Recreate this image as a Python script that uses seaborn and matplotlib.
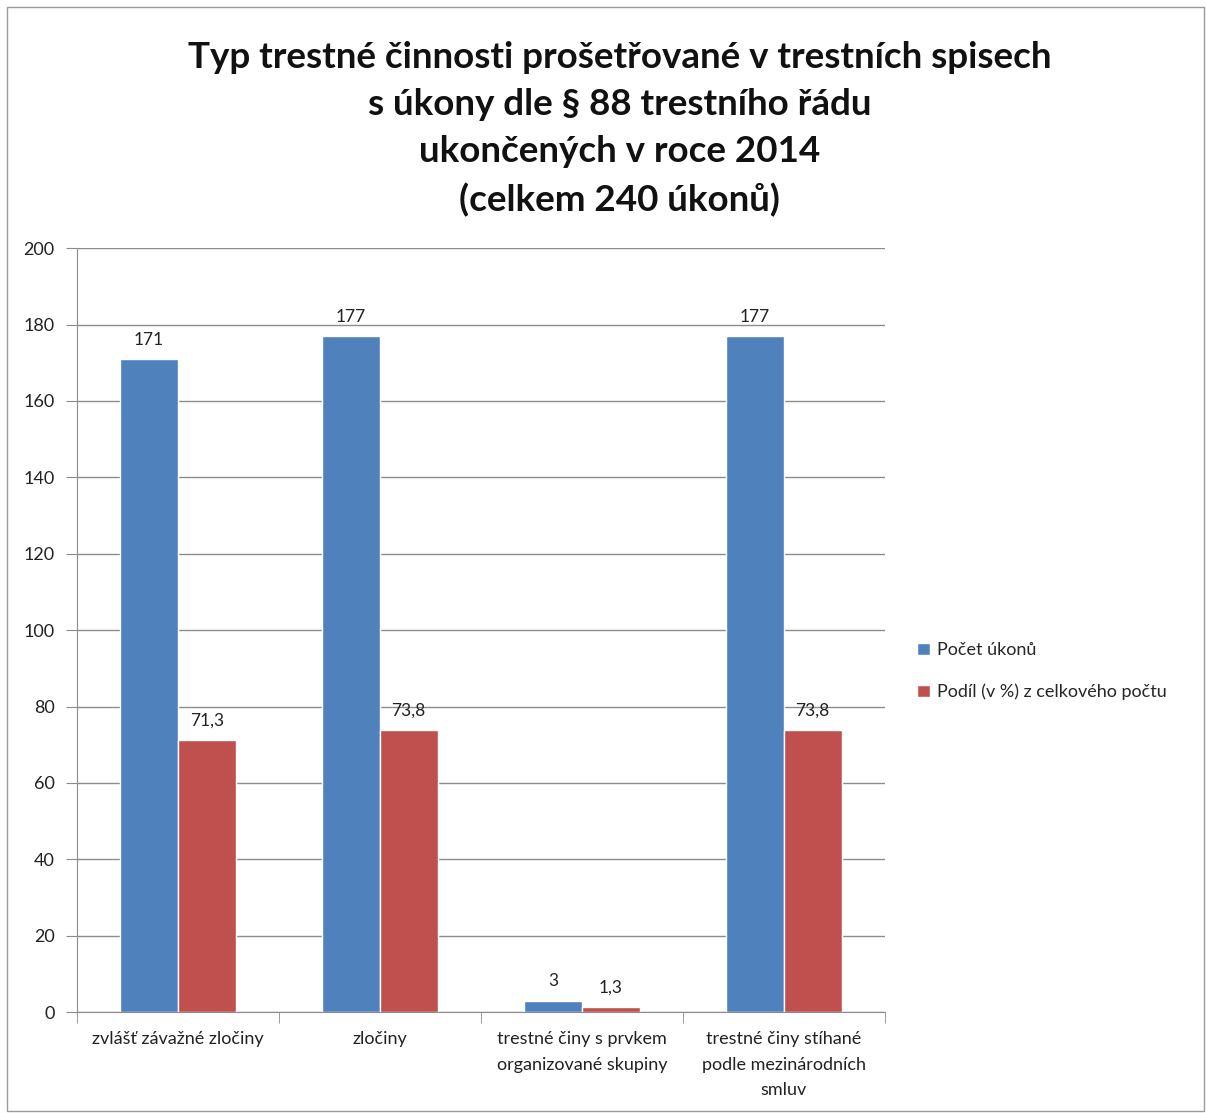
## Typ trestné činnosti - § 88 trestního řádu, 2014

import pandas as pd
import numpy as np
import matplotlib.pyplot as plt
import seaborn as sns
from matplotlib.patches import Rectangle

## Data
kategorie = ["zvlášť závažné zločiny", "zločiny",
             "trestné činy s prvkem\norganizované skupiny",
             "trestné činy stíhané\npodle mezinárodních\nsmluv"]
pocet_ukonu = [171, 177, 3, 177]
podil = [71.3, 73.8, 1.3, 73.8]
serie = ["Počet úkonů", "Podíl (v %) z celkového počtu"]

df = pd.DataFrame({
    "kategorie": kategorie * 2,
    "hodnota": pocet_ukonu + podil,
    "serie": [serie[0]] * 4 + [serie[1]] * 4,
})

sns.set_style("white")
plt.rcParams['font.family'] = ['Lato', 'DejaVu Sans']

fig = plt.figure(figsize=(12.06, 11.13), dpi=100)
ax = fig.add_axes([0.0638, 0.0907, 0.670, 0.6863])

## Graph
sns.barplot(data=df, x="kategorie", y="hodnota", hue="serie",
            palette=["#4F81BD", "#C0504D"], width=0.57, saturation=1,
            ax=ax, legend=True)

for cont, vals in zip(ax.containers, [pocet_ukonu, podil]):
    ax.bar_label(cont, labels=[str(v).replace(".", ",") for v in vals],
                 padding=8, fontsize=12.5, color="#222222")

ax.set_ylim(0, 200)
ax.set_xlim(-0.5, 3.5)
ax.set_yticks(np.arange(0, 201, 20))
ax.yaxis.grid(True, color="#8c8c8c", linewidth=1)
ax.set_axisbelow(True)
ax.set_xlabel("")
ax.set_ylabel("")

for s in ["top", "right"]:
    ax.spines[s].set_visible(False)
ax.spines["left"].set_color("#8c8c8c")
ax.spines["bottom"].set_color("#8c8c8c")

ax.tick_params(axis="y", length=8, color="#8c8c8c", labelsize=13,
               labelcolor="#222222", pad=8, left=True)
ax.set_xticks(range(4))
ax.set_xticklabels(kategorie, fontsize=13, color="#222222", linespacing=1.7)
ax.tick_params(axis="x", which="major", length=0, pad=14)
ax.set_xticks(np.arange(-0.5, 4.0, 1), minor=True)
ax.tick_params(axis="x", which="minor", length=8, color="#8c8c8c", bottom=True)

leg = ax.legend(loc="center left", bbox_to_anchor=(1.02, 0.446), frameon=False,
                fontsize=13, handlelength=0.7, handleheight=0.7,
                handletextpad=0.4, labelspacing=1.4)

fig.text(0.514, 0.9635, "Typ trestné činnosti prošetřované v trestních spisech\n"
         "s úkony dle § 88 trestního řádu\nukončených v roce 2014\n(celkem 240 úkonů)",
         ha="center", va="top", fontsize=26.5, fontweight="bold",
         linespacing=1.53, color="#111111")

fig.patches.append(Rectangle((0.006, 0.002), 0.992, 0.992, transform=fig.transFigure,
                             fill=False, edgecolor="#9a9a9a", linewidth=1))

plt.savefig("out.png", dpi=100)
